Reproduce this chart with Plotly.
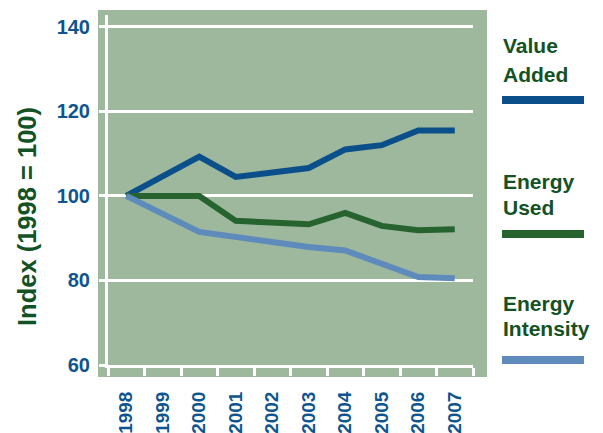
import plotly.graph_objects as go

# ---- data ----
years_tick = [1998, 1999, 2000, 2001, 2002, 2003, 2004, 2005, 2006, 2007]
year_labels = [str(y) for y in years_tick]
y_ticks = [60, 80, 100, 120, 140]

va_years = [1998, 2000, 2001, 2003, 2004, 2005, 2006, 2007]
value_added = [100.0, 109.3, 104.5, 106.6, 111.0, 112.0, 115.5, 115.5]

eu_years = [1998, 2000, 2001, 2003, 2004, 2005, 2006, 2007]
energy_used = [100.0, 100.0, 94.1, 93.3, 96.0, 92.9, 91.9, 92.1]

ei_years = [1998, 2000, 2003, 2004, 2006, 2007]
energy_intensity = [100.0, 91.5, 87.9, 87.1, 80.8, 80.5]

series_names = ["Value Added", "Energy Used", "Energy Intensity"]

# ---- styles ----
C_VA = "#0a4f8a"
C_EU = "#26632f"
C_EI = "#5e8bbb"
C_BG = "#9db89d"
C_TICK = "#0e5590"
C_TEXT = "#135224"
FONT = "Liberation Sans"

OFF = 8  # default body margin of the html page
W, H = 603 - OFF, 433 - OFF
L, T = 108 - OFF, 15 - OFF
R = W - (473 - OFF)
B = H - (365 - OFF)
PW, PH = W - L - R, H - T - B


def px(x):
    return (x - OFF - L) / PW


def py(y):
    return (H - B - (y - OFF)) / PH


fig = go.Figure()
for xs, ys, c, n in [(va_years, value_added, C_VA, series_names[0]),
                     (eu_years, energy_used, C_EU, series_names[1]),
                     (ei_years, energy_intensity, C_EI, series_names[2])]:
    fig.add_trace(go.Scatter(x=xs, y=ys, mode="lines", name=n,
                             line=dict(color=c, width=6), showlegend=False))

half_years = [y - 0.5 for y in years_tick] + [years_tick[-1] + 0.5]

fig.update_xaxes(
    range=[years_tick[0] - 0.5, years_tick[-1] + 0.5],
    tickmode="array", tickvals=years_tick, ticktext=year_labels,
    ticks="", tickangle=-90, ticklabelstandoff=16, automargin=False,
    tickfont=dict(family=FONT, size=19, color=C_TICK, weight="bold"),
    showgrid=False, zeroline=False,
    showline=True, linecolor="white", linewidth=3,
    minor=dict(tickmode="array", tickvals=half_years, ticks="outside",
               ticklen=8, tickwidth=3, tickcolor="white", showgrid=False),
)
fig.update_yaxes(
    range=[60, 142.8], tickmode="array", tickvals=y_ticks,
    ticks="outside", ticklen=6, tickwidth=3, tickcolor="white",
    ticklabelstandoff=5, automargin=False,
    tickfont=dict(family=FONT, size=20, color=C_TICK, weight="bold"),
    showgrid=True, gridcolor="white", gridwidth=3, zeroline=False,
    showline=True, linecolor="white", linewidth=3,
)

shapes = [dict(type="rect", xref="paper", yref="paper",
               x0=px(98), x1=px(487), y0=py(377), y1=py(10),
               fillcolor=C_BG, line=dict(width=0), layer="below")]
for yc, c in [(100, C_VA), (234, C_EU), (360, C_EI)]:
    shapes.append(dict(type="line", xref="paper", yref="paper",
                       x0=px(502), x1=px(584), y0=py(yc), y1=py(yc),
                       line=dict(color=c, width=8)))

annotations = []
for txt, yc in [("Value", 46), ("Added", 75), ("Energy", 181), ("Used", 207),
                ("Energy", 303.5), ("Intensity", 328.5)]:
    annotations.append(dict(text=txt, xref="paper", yref="paper",
                            x=px(501), y=py(yc), xanchor="left", yanchor="middle",
                            showarrow=False,
                            font=dict(family=FONT, size=21, color=C_TEXT, weight="bold")))
annotations.append(dict(text="Index (1998 = 100)", xref="paper", yref="paper",
                        x=px(27), y=py(217), xanchor="center", yanchor="middle",
                        textangle=-90, showarrow=False,
                        font=dict(family=FONT, size=25.5, color=C_TEXT, weight="bold")))

fig.update_layout(
    width=W, height=H,
    margin=dict(l=L, r=R, t=T, b=B, pad=0, autoexpand=False),
    paper_bgcolor="white", plot_bgcolor=C_BG,
    shapes=shapes, annotations=annotations,
    showlegend=False,
)

fig.write_html("out.html")
